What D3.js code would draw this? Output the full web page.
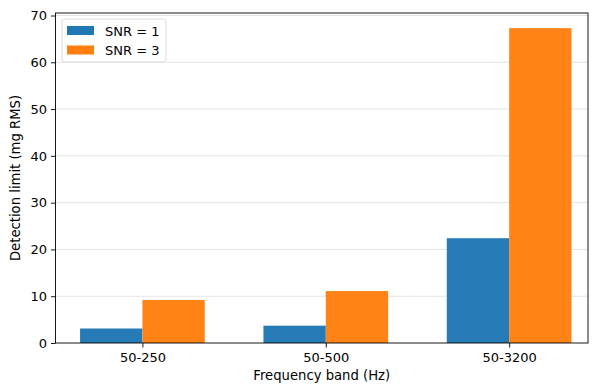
<!DOCTYPE html>
<html>
<head>
<meta charset="utf-8">
<script src="https://cdn.jsdelivr.net/npm/d3@7"></script>
<style>
  body { margin: 0; background: #fff; }
  text { font-family: "DejaVu Sans", sans-serif; fill: #000; }
</style>
</head>
<body>
<div id="chart"></div>
<script>
// Data
const bands = ['50-250', '50-500', '50-3200'];
const snr1 = [3.1, 3.7, 22.4];
const snr3 = [9.2, 11.1, 67.3];
const seriesNames = ['SNR = 1', 'SNR = 3'];
const colors = ['#1f77b4', '#ff7f0e'];
const yTicks = [0, 10, 20, 30, 40, 50, 60, 70];

const W = 592, H = 385;
const plotL = 55.5, plotR = 588, plotT = 13, plotB = 343;
const barW = 0.34;

const svg = d3.select('#chart').append('svg')
    .attr('width', W)
    .attr('height', H);

const x = d3.scaleLinear().domain([-0.474, 2.43]).range([plotL, plotR]);
const y = d3.scaleLinear().domain([0, 70]).range([plotB, 15.5]);

// Grid behind the bars
svg.append('g')
    .selectAll('line')
    .data(yTicks.filter(d => d > 0))
    .join('line')
    .attr('x1', plotL).attr('x2', plotR)
    .attr('y1', d => y(d)).attr('y2', d => y(d))
    .attr('stroke', '#e3e3e3')
    .attr('stroke-width', 1);

// Bars (slightly transparent, grid shows through faintly)
const series = [snr1, snr3];
series.forEach((vals, si) => {
    svg.append('g')
        .selectAll('rect')
        .data(vals)
        .join('rect')
        .attr('x', (d, i) => x(i + (si === 0 ? -barW : 0)))
        .attr('width', x(barW) - x(0))
        .attr('y', d => y(d))
        .attr('height', d => y(0) - y(d))
        .attr('fill', colors[si])
        .attr('fill-opacity', 0.97);
});

// Axes
const xAxis = d3.axisBottom(x)
    .tickValues(d3.range(bands.length))
    .tickFormat(i => bands[i])
    .tickSize(4.5)
    .tickPadding(5);
const gx = svg.append('g')
    .attr('transform', `translate(0,${plotB})`)
    .call(xAxis);
gx.select('.domain').remove();

const yAxis = d3.axisLeft(y)
    .tickValues(yTicks)
    .tickSize(4.5)
    .tickPadding(4);
const gy = svg.append('g')
    .attr('transform', `translate(${plotL},0)`)
    .call(yAxis);
gy.select('.domain').remove();

[gx, gy].forEach(g => {
    g.selectAll('text')
        .style('font-family', '"DejaVu Sans", sans-serif')
        .style('font-size', '13px')
        .attr('fill', '#000');
    g.selectAll('line').attr('stroke', '#000').attr('stroke-width', 0.9);
});

// Frame
svg.append('rect')
    .attr('x', plotL).attr('y', plotT)
    .attr('width', plotR - plotL).attr('height', plotB - plotT)
    .attr('fill', 'none')
    .attr('stroke', '#000')
    .attr('stroke-width', 0.9);

// Axis labels
svg.append('text')
    .attr('x', (plotL + plotR) / 2)
    .attr('y', 379.5)
    .attr('text-anchor', 'middle')
    .style('font-size', '13.2px')
    .text('Frequency band (Hz)');

svg.append('text')
    .attr('transform', `translate(20,${(plotT + plotB) / 2}) rotate(-90)`)
    .attr('text-anchor', 'middle')
    .style('font-size', '13.2px')
    .text('Detection limit (mg RMS)');

// Legend
const lg = svg.append('g').attr('transform', 'translate(62,19)');
lg.append('rect')
    .attr('width', 104).attr('height', 43)
    .attr('rx', 2.5)
    .attr('fill', '#fff')
    .attr('fill-opacity', 0.8)
    .attr('stroke', '#d9d9d9')
    .attr('stroke-width', 0.9);
seriesNames.forEach((name, i) => {
    lg.append('rect')
        .attr('x', 5).attr('y', 7 + i * 19.5)
        .attr('width', 27).attr('height', 9)
        .attr('fill', colors[i]);
    lg.append('text')
        .attr('x', 43).attr('y', 12 + i * 19.5)
        .attr('dy', '0.35em')
        .style('font-size', '13px')
        .text(name);
});
</script>
</body>
</html>
